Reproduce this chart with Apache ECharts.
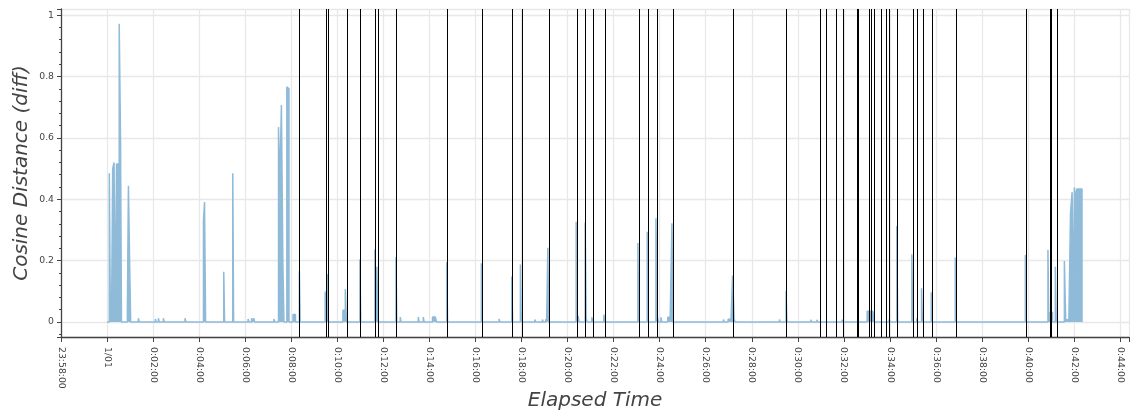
<!DOCTYPE html>
<html>
<head>
<meta charset="utf-8">
<script src="https://cdn.jsdelivr.net/npm/echarts@6/dist/echarts.min.js"></script>
<style>html,body{margin:0;padding:0;background:#fff}#c{width:1131px;height:413px}</style>
</head>
<body>
<div id="c"></div>
<script>
// Elapsed time of each sample (seconds from 0:00:00)
const sampleTimes = [7, 10.4, 13, 16.4, 20.1, 25.8, 29.5, 33.9, 36.5, 54, 57.4, 60.5, 82.7, 127, 134.9, 147.9, 204.3,
  252.3, 255.7, 305.2, 328.7, 368.6, 377.5, 383.5, 435.7, 447.9, 452.1, 456.5, 459.9, 469.6, 473, 485.7, 489.9,
  502.2, 569.5, 575.7, 615.7, 619, 622.7, 660, 699.1, 704.3, 753.9, 765.1, 812.1, 825.1, 849.2, 853, 857.7,
  886.2, 976.4, 1022.6, 1055.7, 1078.2, 1115.7, 1135.6, 1144.4, 1149.7, 1223.5, 1228.7, 1247, 1250.1, 1264.4, 1295.7,
  1384.4, 1408.7, 1431.4, 1435.6, 1444.4, 1462.2, 1466.1, 1473.1, 1607.2, 1619.5, 1624, 1627.8, 1632.3, 1635.7,
  1753.1, 1770.5, 1835.2, 1850.9, 1916.6, 1981.8, 1985.7, 1989.6, 1993.5, 1997.5, 2039.2, 2059, 2098.2, 2111.2,
  2123.5, 2148.8, 2211.4, 2394, 2452.9, 2459.1, 2462.6, 2472.2, 2495.7, 2500.4, 2504.3, 2508.2, 2513, 2516.6,
  2521.8, 2525.2, 2528.6, 2532.2, 2535.9, 2539.5];
// Cosine distance (diff) of each sample
const sampleValues = [0.485, 0.01, 0.02, 0.50, 0.52, 0.515, 0.515, 0.972, 0.585, 0.03, 0.444, 0.186, 0.012, 0.01, 0.012, 0.012, 0.012,
  0.329, 0.391, 0.164, 0.485, 0.01, 0.012, 0.012, 0.01, 0.635, 0.437, 0.707, 0.189, 0.766, 0.76, 0.024, 0.024,
  0.166, 0.099, 0.156, 0.038, 0.038, 0.107, 0.204, 0.237, 0.18, 0.212, 0.016, 0.016, 0.016, 0.016, 0.016, 0.016,
  0.195, 0.191, 0.01, 0.148, 0.187, 0.008, 0.008, 0.01, 0.242, 0.327, 0.02, 0.324, 0.01, 0.015, 0.024,
  0.257, 0.294, 0.338, 0.02, 0.015, 0.015, 0.015, 0.322, 0.008, 0.009, 0.009, 0.009, 0.151, 0.009,
  0.008, 0.101, 0.007, 0.007, 0.007, 0.035, 0.035, 0.035, 0.035, 0.035, 0.008, 0.313, 0.221, 0.012,
  0.11, 0.097, 0.21, 0.218, 0.235, 0.032, 0.032, 0.18, 0.199, 0.007, 0.007, 0.007, 0.354, 0.423,
  0.439, 0.40, 0.433, 0.433, 0.433, 0.433];
// Detected cut times (seconds)
const cutTimes = [502, 572, 577, 625, 660, 700, 706, 754, 886, 978, 1056, 1081, 1151, 1224, 1247, 1266, 1297,
  1387, 1411, 1434, 1476, 1633, 1771, 1859, 1875, 1900, 1918, 1954, 1957, 1985, 1991, 1998, 2017, 2030, 2039,
  2060, 2100, 2112, 2126, 2151, 2213, 2394, 2457, 2461, 2475];
// Axis settings
const xMin = -120, xMax = 2663, xStep = 120;
const yMin = -0.049, yMax = 1.02;

const HALF = 1.1, GAP = 5;
const pts = [[0, 0]];
for (let i = 0; i < sampleTimes.length; i++) {
  const t = sampleTimes[i], v = sampleValues[i];
  const prevContig = i > 0 && t - sampleTimes[i - 1] < GAP;
  const s = prevContig ? (sampleTimes[i - 1] + t) / 2 : t - HALF;
  pts.push([s, v]);
  const nextContig = i < sampleTimes.length - 1 && sampleTimes[i + 1] - t < GAP;
  if (!nextContig) pts.push([t + HALF, 0]);
}

function pad(n) { return (n < 10 ? '0' : '') + n; }
function fmtTime(v) {
  if (Math.abs(v % xStep) > 1e-6) return '';
  if (v === 0) return '1/01';
  let s = v < 0 ? v + 86400 : v;
  const h = Math.floor(s / 3600), m = Math.floor((s % 3600) / 60), sec = Math.round(s % 60);
  return h + ':' + pad(m) + ':' + pad(sec);
}
function fmtY(v) {
  if (Math.abs(v * 5 - Math.round(v * 5)) > 1e-6) return '';
  const r = Math.round(v * 5) / 5;
  if (r === 0) return '0';
  if (r === 1) return '1';
  return r.toFixed(1);
}

const font = 'DejaVu Sans';
const chart = echarts.init(document.getElementById('c'), null, { renderer: 'canvas' });
chart.setOption({
  animation: false,
  backgroundColor: '#fff',
  grid: { left: 61, right: 2, top: 9, bottom: 76, containLabel: false, outerBoundsMode: 'none' },
  xAxis: {
    type: 'value', min: xMin, max: xMax, interval: xStep,
    name: 'Elapsed Time', nameLocation: 'middle', nameGap: 54, nameMoveOverlap: false,
    nameTextStyle: { fontSize: 20, fontStyle: 'italic', color: '#444', fontFamily: font },
    axisLine: { onZero: false, lineStyle: { color: '#444', width: 1.3 } },
    axisTick: { length: 5, lineStyle: { color: '#444', width: 1 } },
    axisLabel: { rotate: -90, margin: 10, fontSize: 9.3, color: '#444', fontFamily: font, formatter: fmtTime },
    splitLine: { show: true, lineStyle: { color: '#e8e8e8', width: 1.3 } }
  },
  yAxis: {
    type: 'value', min: yMin, max: yMax, splitNumber: 5,
    name: 'Cosine Distance (diff)', nameLocation: 'middle', nameGap: 29, nameMoveOverlap: false,
    nameTextStyle: { fontSize: 20, fontStyle: 'italic', color: '#444', fontFamily: font },
    axisLine: { show: true, onZero: false, lineStyle: { color: '#444', width: 1.3 } },
    axisTick: { show: true, length: 4, lineStyle: { color: '#444', width: 1 } },
    minorTick: { show: true, splitNumber: 5, length: 2, lineStyle: { color: '#444', width: 1 } },
    axisLabel: { margin: 7, fontSize: 9.3, color: '#444', fontFamily: font, formatter: fmtY },
    splitLine: { show: true, lineStyle: { color: '#e8e8e8', width: 1.3 } }
  },
  series: [{
    type: 'line', data: pts, step: 'end', showSymbol: false, symbol: 'none',
    lineStyle: { color: '#8fbbd9', width: 1.5 },
    areaStyle: { color: '#8fbbd9', opacity: 1 },
    emphasis: { disabled: true },
    markLine: {
      silent: true, symbol: ['none', 'none'], label: { show: false },
      lineStyle: { color: '#000', width: 1, type: 'solid', opacity: 1 },
      emphasis: { disabled: true }, animation: false,
      data: cutTimes.map(t => ({ xAxis: t }))
    }
  }]
});
</script>
</body>
</html>
